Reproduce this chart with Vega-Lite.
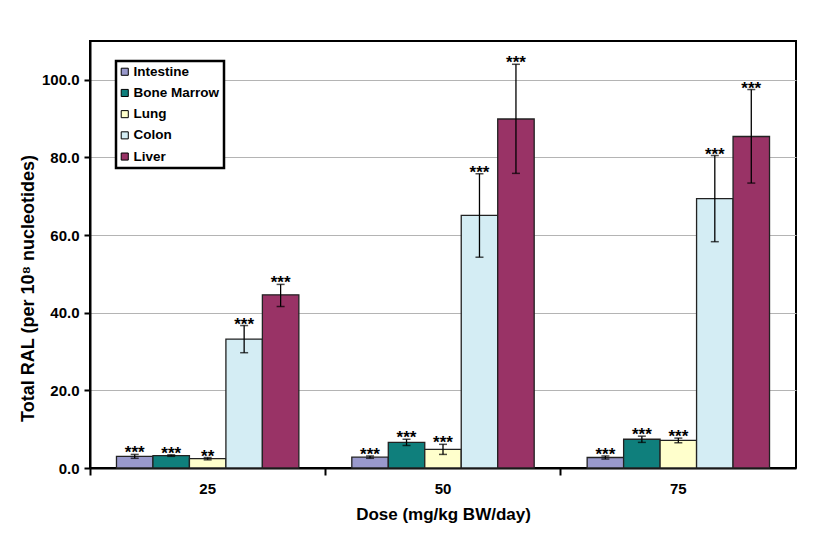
{
  "$schema": "https://vega.github.io/schema/vega-lite/v6.json",
  "width": 706,
  "height": 427,
  "autosize": {"type": "none"},
  "padding": {"left": 90, "top": 41, "right": 29, "bottom": 69},
  "background": "white",
  "config": {
    "font": "Liberation Sans",
    "view": {"stroke": "black", "strokeWidth": 2},
    "axis": {"labelFont": "Liberation Sans", "titleFont": "Liberation Sans", "labelFontWeight": "bold", "titleFontWeight": "bold", "labelColor": "black", "titleColor": "black"}
  },
  "data": {
    "values": [
      {"dose": "25", "tissue": "Intestine", "value": 3.0, "lo": 2.5, "hi": 3.5, "sig": "***"},
      {"dose": "25", "tissue": "Bone Marrow", "value": 3.2, "lo": 3.0, "hi": 3.4, "sig": "***"},
      {"dose": "25", "tissue": "Lung", "value": 2.4, "lo": 2.1, "hi": 2.7, "sig": "**"},
      {"dose": "25", "tissue": "Colon", "value": 33.2, "lo": 29.7, "hi": 36.7, "sig": "***"},
      {"dose": "25", "tissue": "Liver", "value": 44.6, "lo": 41.6, "hi": 47.3, "sig": "***"},
      {"dose": "50", "tissue": "Intestine", "value": 2.8, "lo": 2.5, "hi": 3.1, "sig": "***"},
      {"dose": "50", "tissue": "Bone Marrow", "value": 6.6, "lo": 5.8, "hi": 7.4, "sig": "***"},
      {"dose": "50", "tissue": "Lung", "value": 4.8, "lo": 3.5, "hi": 6.1, "sig": "***"},
      {"dose": "50", "tissue": "Colon", "value": 65.1, "lo": 54.3, "hi": 75.8, "sig": "***"},
      {"dose": "50", "tissue": "Liver", "value": 89.9, "lo": 75.9, "hi": 104.0, "sig": "***"},
      {"dose": "75", "tissue": "Intestine", "value": 2.7, "lo": 2.3, "hi": 3.1, "sig": "***"},
      {"dose": "75", "tissue": "Bone Marrow", "value": 7.4, "lo": 6.6, "hi": 8.2, "sig": "***"},
      {"dose": "75", "tissue": "Lung", "value": 7.1, "lo": 6.5, "hi": 7.7, "sig": "***"},
      {"dose": "75", "tissue": "Colon", "value": 69.4, "lo": 58.3, "hi": 80.5, "sig": "***"},
      {"dose": "75", "tissue": "Liver", "value": 85.4, "lo": 73.4, "hi": 97.5, "sig": "***"}
    ]
  },
  "encoding": {
    "x": {
      "field": "dose", "type": "nominal",
      "scale": {"paddingInner": 0.225, "paddingOuter": 0.1125},
      "axis": {"labelAngle": 0, "bandPosition": -0.145, "tickColor": "black", "tickSize": 7, "tickWidth": 2, "domainColor": "black", "domainWidth": 2, "labelFontSize": 15, "labelPadding": 6, "title": "Dose (mg/kg BW/day)", "titleFontSize": 17, "titlePadding": 10}
    },
    "xOffset": {
      "field": "tissue", "type": "nominal",
      "scale": {"domain": ["Intestine", "Bone Marrow", "Lung", "Colon", "Liver"], "paddingInner": 0, "paddingOuter": 0}
    }
  },
  "layer": [
    {
      "mark": {"type": "bar", "stroke": "#222222", "strokeWidth": 1.3},
      "encoding": {
        "y": {
          "field": "value", "type": "quantitative",
          "scale": {"domain": [0, 110], "nice": false},
          "axis": {"values": [0, 20, 40, 60, 80, 100], "format": ".1f", "grid": true, "gridColor": "#b4b4b4", "gridWidth": 1.2, "tickColor": "black", "tickSize": 6, "tickWidth": 2, "domainColor": "black", "domainWidth": 2, "labelFontSize": 15, "labelPadding": 5, "title": "Total RAL (per 10⁸ nucleotides)", "titleFontSize": 18, "titlePadding": 4, "titleY": 247}
        },
        "fill": {
          "field": "tissue", "type": "nominal",
          "scale": {"domain": ["Intestine", "Bone Marrow", "Lung", "Colon", "Liver"], "range": ["#9999CC", "#0F7F7C", "#FFFFCC", "#D4EDF4", "#993366"]},
          "legend": {"title": null, "orient": "none", "legendX": 26, "legendY": 20, "symbolType": "square", "symbolSize": 50, "symbolStrokeColor": "black", "symbolStrokeWidth": 1, "labelFontSize": 13.5, "labelFontWeight": "bold", "labelColor": "black", "labelFont": "Liberation Sans", "rowPadding": 6.2, "padding": 4, "strokeColor": "black", "fillColor": "white", "symbolOffset": -2, "labelOffset": 2,
            "encode": {"legend": {"update": {"strokeWidth": {"value": 2.5}}}}}
        }
      }
    },
    {
      "mark": {"type": "rule", "color": "black", "strokeWidth": 1.3},
      "encoding": {"y": {"field": "lo", "type": "quantitative"}, "y2": {"field": "hi"}}
    },
    {
      "mark": {"type": "tick", "color": "black", "thickness": 1.5, "size": 8, "orient": "horizontal"},
      "encoding": {"y": {"field": "lo", "type": "quantitative"}}
    },
    {
      "mark": {"type": "tick", "color": "black", "thickness": 1.5, "size": 8, "orient": "horizontal"},
      "encoding": {"y": {"field": "hi", "type": "quantitative"}}
    },
    {
      "mark": {"type": "text", "baseline": "alphabetic", "dy": 4, "fontSize": 17, "fontWeight": "bold", "font": "Liberation Sans", "color": "black"},
      "encoding": {"y": {"field": "hi", "type": "quantitative"}, "text": {"field": "sig"}}
    }
  ]
}
